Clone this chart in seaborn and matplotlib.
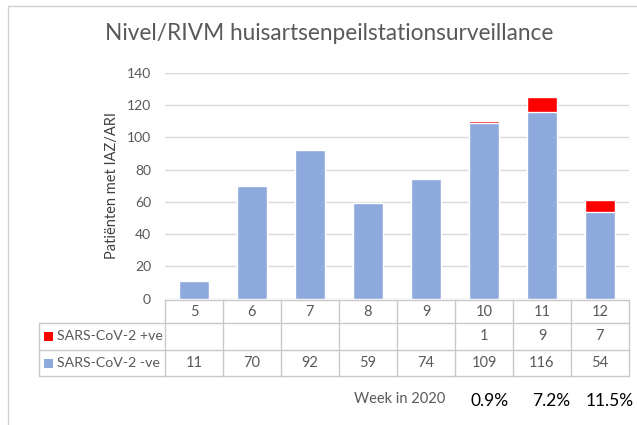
import matplotlib
matplotlib.use("Agg")
import matplotlib.pyplot as plt
import seaborn as sns
import pandas as pd
from matplotlib.lines import Line2D
from matplotlib.patches import Rectangle

weeks = ["5", "6", "7", "8", "9", "10", "11", "12"]
neg = [11, 70, 92, 59, 74, 109, 116, 54]
pos = [None, None, None, None, None, 1, 9, 7]
series_labels = ["SARS-CoV-2 +ve", "SARS-CoV-2 -ve"]
title = "Nivel/RIVM huisartsenpeilstationsurveillance"
ylabel = "Patiënten met IAZ/ARI"
xlabel = "Week in 2020"
yticks = [0, 20, 40, 60, 80, 100, 120, 140]

BLUE = "#8EA9DB"
RED = "#FF0000"
GRID = "#D9D9D9"
TXT = "#595959"

sns.set_theme(style="white")
plt.rcParams["font.family"] = ["Lato", "DejaVu Sans"]

W, H = 637, 425
fig = plt.figure(figsize=(W / 100, H / 100), dpi=100)

def fx(px):
    return px / W

def fy(py):
    return 1 - py / H

L, R, T, B = 165, 629, 73, 298.5
ax = fig.add_axes([fx(L), fy(B), fx(R) - fx(L), fy(T) - fy(B)])

df = pd.DataFrame({
    "week": weeks,
    "neg": neg,
    "pos": [p if p is not None else 0 for p in pos],
})
df["total"] = df["neg"] + df["pos"]

sns.barplot(data=df, x="week", y="total", order=weeks, color=RED,
            saturation=1, width=0.51, ax=ax, zorder=3)
sns.barplot(data=df, x="week", y="neg", order=weeks, color=BLUE,
            saturation=1, width=0.51, ax=ax, zorder=3)

ax.set_xlim(-0.5, len(weeks) - 0.5)
ax.set_ylim(0, 140)
ax.set_yticks(yticks)
ax.set_yticklabels([str(v) for v in yticks], fontsize=10, color=TXT)
ax.tick_params(axis="y", length=0, pad=10)
ax.set_xticks([])
ax.set_xlabel("")
ax.set_ylabel(ylabel, fontsize=10.5, color="#404040")
ax.yaxis.label.set_verticalalignment("center")
ax.yaxis.set_label_coords((112 - L) / (R - L), 0.5)
ax.grid(axis="y", color=GRID, linewidth=1, zorder=0)
for s in ax.spines.values():
    s.set_visible(False)
ax.set_axisbelow(True)

# outer frame
fig.add_artist(Rectangle((fx(8), fy(440)), fx(700) - fx(8), fy(6) - fy(440),
                         transform=fig.transFigure, fill=False,
                         edgecolor="#D0D0D0", linewidth=1))

fig.text(fx(329), fy(34), title, ha="center", va="center",
         fontsize=16.3, color=TXT)

# data table
tl = 39
rows_y = [300, 323, 350, 376]
col_w = (R - L) / len(weeks)
cols_x = [L + i * col_w for i in range(len(weeks) + 1)]
lc = "#C8C8C8"
fig.add_artist(Line2D([fx(L), fx(R)], [fy(rows_y[0])] * 2, color=lc, lw=1))
for yy in rows_y[1:]:
    fig.add_artist(Line2D([fx(tl), fx(R)], [fy(yy)] * 2, color=lc, lw=1))
for xx in cols_x:
    fig.add_artist(Line2D([fx(xx)] * 2, [fy(rows_y[0]), fy(rows_y[-1])], color=lc, lw=1))
fig.add_artist(Line2D([fx(tl)] * 2, [fy(rows_y[1]), fy(rows_y[-1])], color=lc, lw=1))

for i, w in enumerate(weeks):
    cx = fx(L + (i + 0.5) * col_w)
    fig.text(cx, fy(312), w, ha="center", va="center", fontsize=10.5, color=TXT)
    if pos[i] is not None:
        fig.text(cx, fy((rows_y[1] + rows_y[2]) / 2), str(pos[i]), ha="center",
                 va="center", fontsize=10.5, color=TXT)
    fig.text(cx, fy((rows_y[2] + rows_y[3]) / 2), str(neg[i]), ha="center",
             va="center", fontsize=10.5, color=TXT)

for k, (lab, col) in enumerate(zip(series_labels, [RED, BLUE])):
    ymid = (rows_y[k + 1] + rows_y[k + 2]) / 2
    fig.add_artist(Rectangle((fx(44), fy(ymid + 4.5)), fx(9), fy(0) - fy(9),
                             transform=fig.transFigure, facecolor=col,
                             edgecolor="none"))
    fig.text(fx(57), fy(ymid), lab, ha="left", va="center", fontsize=10.2,
             color=TXT)

fig.text(fx(400), fy(399), xlabel, ha="center", va="center", fontsize=10.5,
         color=TXT)

# positivity percentages
pct_x = [490, 551, 610]
j = 0
for i, p in enumerate(pos):
    if p is not None:
        pct = 100 * p / (p + neg[i])
        fig.text(fx(pct_x[j]), fy(401), f"{pct:.1f}%", ha="center",
                 va="center", fontsize=12.5, color="black")
        j += 1

fig.savefig("out.png", dpi=100)
